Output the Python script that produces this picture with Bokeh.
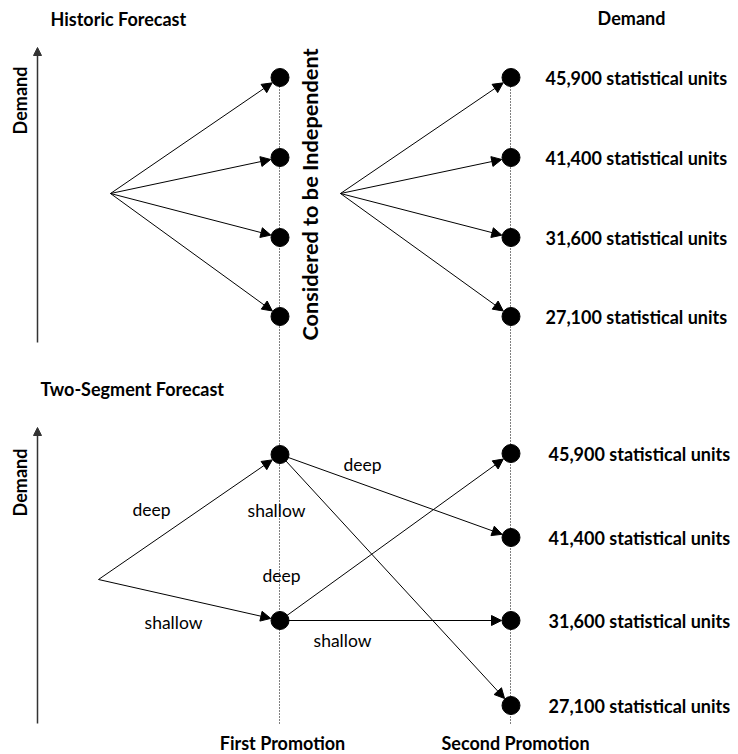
import math
from bokeh.plotting import figure
from bokeh.models import Range1d, ColumnDataSource, Arrow, NormalHead
from bokeh.core.properties import value
from bokeh.embed import file_html
from bokeh.resources import INLINE

# ---- data ----
demand_levels = [45900, 41400, 31600, 27100]
demand_labels = [f"{v:,} statistical units" for v in demand_levels]
section_titles = ["Historic Forecast", "Two-Segment Forecast"]
column_titles = ["First Promotion", "Second Promotion"]
# lower tree edges: (from first-promotion node, to demand index, label)
first_nodes = ["deep", "shallow"]
second_edges = [(0, 1, "deep"), (0, 3, ""), (1, 0, ""), (1, 2, "shallow")]

# ---- layout (image pixel coordinates) ----
W, H = 736, 752
p = figure(width=W, height=H, output_backend="svg", toolbar_location=None,
           x_range=Range1d(0, W), y_range=Range1d(H, 0),
           min_border=0)
p.axis.visible = False
p.grid.visible = False
p.outline_line_color = None
p.background_fill_color = "white"
p.border_fill_color = "white"

FONT = value("Lato")
X1, X2 = 279.5, 510.5
up_y = [77, 157, 237, 316]
low_y2 = [453, 537, 620, 705]
low_y1 = [454, 620]
R = 9.5
BS = 18


def text(x, y, t, size, bold=False, align="left", angle=0.0):
    p.text(x=[x], y=[y], text=[t], text_font=FONT, text_font_size=f"{size}px",
           text_font_style="bold" if bold else "normal", text_align=align,
           text_baseline="middle", text_color="black", angle=angle)


# dotted vertical lines
for xc in (X1, X2):
    p.line([xc - 0.5, xc - 0.5], [up_y[0], 723], line_color="black", line_width=1,
           line_dash="1 2")

# demand axes
for top, bot in ((47, 342), (427, 723)):
    p.line([37, 37], [bot, top + 6], line_color="#333333", line_width=1.5)
    p.add_layout(Arrow(end=NormalHead(size=8, fill_color="#333333", line_color="#333333"),
                       x_start=37, y_start=top + 8, x_end=37, y_end=top,
                       line_color="#333333", line_width=1.5))

# arrows
segs = []
for y in up_y:
    segs.append(((110, 193), (X1, y)))
    segs.append(((340, 193), (X2, y)))
for y in low_y1:
    segs.append(((98, 579), (X1, y)))
for i, j, _ in second_edges:
    segs.append(((X1, low_y1[i]), (X2, low_y2[j])))

x0, y0, x1, y1 = [], [], [], []
for (ax, ay), (bx, by) in segs:
    d = math.hypot(bx - ax, by - ay)
    ux, uy = (bx - ax) / d, (by - ay) / d
    x0.append(ax); y0.append(ay)
    x1.append(bx - ux * R); y1.append(by - uy * R)
src = ColumnDataSource(dict(x0=x0, y0=y0, x1=x1, y1=y1))
p.add_layout(Arrow(end=NormalHead(size=10, fill_color="black", line_color="black", line_width=1),
                   x_start="x0", y_start="y0", x_end="x1", y_end="y1", source=src,
                   line_color="black", line_width=1))

# nodes
p.scatter(x=[X1] * 4 + [X2] * 4, y=up_y + up_y, size=18, color="black")
p.scatter(x=[X1] * 2 + [X2] * 4, y=low_y1 + low_y2, size=18, color="black")

# texts
text(50, 18, section_titles[0], BS, bold=True)
text(631, 17, "Demand", BS, bold=True, align="center")
text(40, 388, section_titles[1], BS, bold=True)
text(19, 100, "Demand", BS, bold=True, align="center", angle=math.pi / 2)
text(19, 482, "Demand", BS, bold=True, align="center", angle=math.pi / 2)
text(309, 194, "Considered to be Independent", 21.7, bold=True, align="center", angle=math.pi / 2)
for y, lab in zip(up_y, demand_labels):
    text(545, y, lab, BS, bold=True)
for y, lab in zip(low_y2, demand_labels):
    text(548, y, lab, BS, bold=True)

NS = 17.5
text(151, 509, first_nodes[0], NS, align="center")
text(173, 622, first_nodes[1], NS, align="center")
text(276, 510, "shallow", NS, align="center")
text(281, 575, "deep", NS, align="center")
text(362, 464, second_edges[0][2], NS, align="center")
text(342, 640, second_edges[3][2], NS, align="center")

text(282, 742, column_titles[0], BS, bold=True, align="center")
text(515, 742, column_titles[1], BS, bold=True, align="center")

open("out.html", "w").write(file_html(p, INLINE))
